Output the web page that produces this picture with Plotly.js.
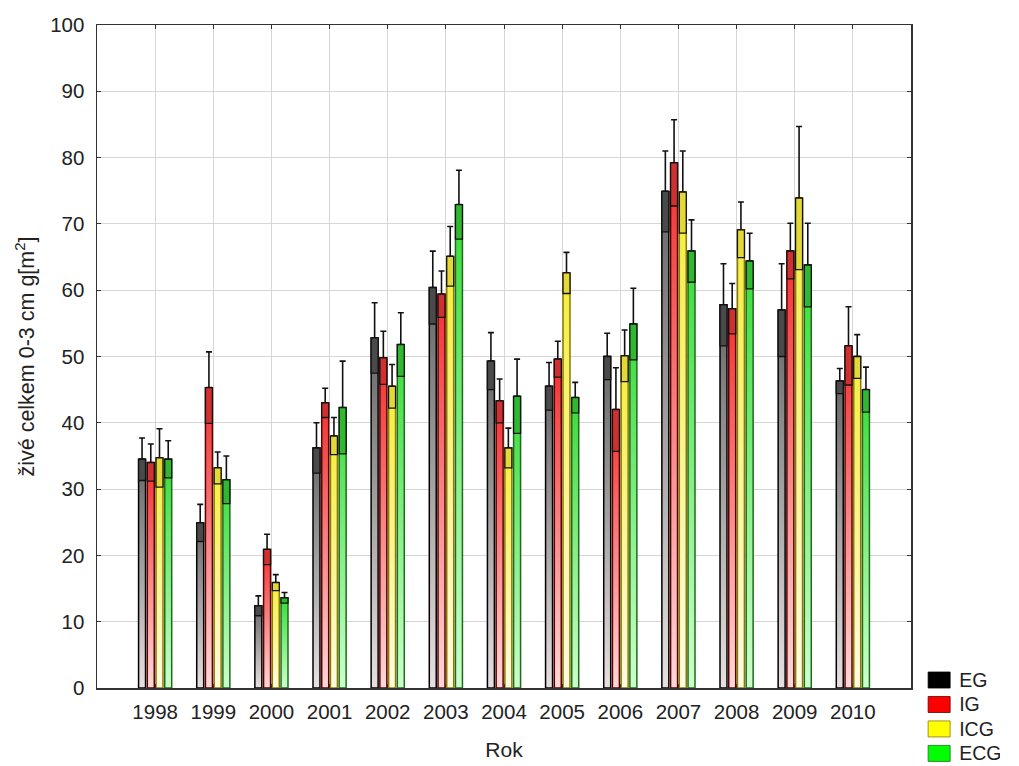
<!DOCTYPE html>
<html>
<head>
<meta charset="utf-8">
<script src="https://cdn.plot.ly/plotly-3.0.1.min.js"></script>
<style>
  html, body { margin: 0; padding: 0; background: #fff; }
  #chart { width: 1019px; height: 766px; }
</style>
</head>
<body>
<div id="chart"></div>
<script>
const years = ['1998','1999','2000','2001','2002','2003','2004','2005','2006','2007','2008','2009','2010'];

const EG      = [34.5, 24.9, 12.4, 36.2, 52.8, 60.4, 49.3, 45.5, 50.0, 74.9, 57.8, 57.0, 46.3];
const EG_err  = [3.2, 2.8, 1.5, 3.8, 5.3, 5.5, 4.3, 3.6, 3.5, 6.1, 6.2, 7.0, 1.9];
const IG      = [34.0, 45.3, 20.9, 43.0, 49.8, 59.4, 43.3, 49.6, 42.0, 79.2, 57.2, 65.9, 51.6];
const IG_err  = [2.8, 5.4, 2.3, 2.2, 4.0, 3.5, 3.3, 2.7, 6.3, 6.5, 3.8, 4.2, 5.9];
const ICG     = [34.7, 33.2, 15.9, 38.0, 45.5, 65.1, 36.2, 62.6, 50.1, 74.8, 69.1, 73.9, 50.0];
const ICG_err = [4.4, 2.4, 1.2, 2.8, 3.3, 4.5, 3.0, 3.1, 3.9, 6.2, 4.2, 10.8, 3.3];
const ECG     = [34.5, 31.4, 13.6, 42.3, 51.8, 72.9, 44.0, 43.8, 54.9, 65.9, 64.4, 63.8, 45.0];
const ECG_err = [2.8, 3.6, 0.8, 7.0, 4.8, 5.2, 5.6, 2.3, 5.4, 4.7, 4.2, 6.3, 3.4];

const seriesNames = ['EG', 'IG', 'ICG', 'ECG'];
const seriesVals  = [EG, IG, ICG, ECG];
const seriesErr   = [EG_err, IG_err, ICG_err, ECG_err];

// styles
const legendColors = ['#000000', '#ff0000', '#ffff00', '#00ff00'];
const lineColors   = ['#000000', '#5a0000', '#8a7a00', '#1f6a1f'];
const boxColors    = ['#4a4a4a', '#d03030', '#e4d838', '#30b830'];
const gradTop      = ['#666666', '#f03030', '#f4ee3c', '#38dc38'];
const gradBottom   = ['#e8e0e0', '#ffd8d8', '#fffbe4', '#ccffcc'];

const traces = [];
seriesNames.forEach((name, i) => {
  traces.push({
    type: 'bar',
    name: name,
    x: years,
    y: seriesVals[i],
    offsetgroup: String(i),
    marker: { color: legendColors[i], line: { color: lineColors[i], width: 1.5 } },
    error_y: {
      type: 'data',
      array: seriesErr[i],
      arrayminus: seriesErr[i].map(() => 0),
      symmetric: false,
      color: '#111111',
      thickness: 1.6,
      width: 3
    },
    hoverinfo: 'skip'
  });
});
// darker boxes (mean - error .. mean) drawn over the bars
seriesNames.forEach((name, i) => {
  traces.push({
    type: 'bar',
    name: name + ' box',
    showlegend: false,
    x: years,
    y: seriesErr[i],
    base: seriesVals[i].map((v, k) => v - seriesErr[i][k]),
    offsetgroup: String(i),
    marker: { color: boxColors[i], line: { color: '#111111', width: 1.3 } },
    hoverinfo: 'skip'
  });
});

const fontFam = '"Liberation Sans", Arial, sans-serif';
const txt = '#222222';

const layout = {
  width: 1019,
  height: 766,
  margin: { l: 97, r: 108, t: 25, b: 78, autoexpand: false },
  paper_bgcolor: '#ffffff',
  plot_bgcolor: '#ffffff',
  barmode: 'group',
  bargap: 0.4,
  bargroupgap: 0.2,
  font: { family: fontFam, color: txt, size: 18 },
  xaxis: {
    type: 'category',
    range: [-1, 13],
    showgrid: true,
    gridcolor: '#d6d6d6',
    gridwidth: 1,
    showline: true,
    linecolor: '#333333',
    linewidth: 1.5,
    mirror: 'ticks',
    ticks: 'inside',
    ticklen: 4,
    tickcolor: '#333333',
    ticklabelstandoff: 5,
    tickfont: { size: 20.5, family: fontFam, color: txt },
    title: { text: 'Rok', font: { size: 21, family: fontFam, color: txt }, standoff: 20 },
    zeroline: false,
    fixedrange: true
  },
  yaxis: {
    range: [0, 100],
    dtick: 10,
    showgrid: true,
    gridcolor: '#d6d6d6',
    gridwidth: 1,
    showline: true,
    linecolor: '#333333',
    linewidth: 1.5,
    mirror: 'ticks',
    ticks: 'inside',
    ticklen: 4,
    tickcolor: '#333333',
    ticklabelstandoff: 7,
    tickfont: { size: 20.5, family: fontFam, color: txt },
    title: { text: 'živé celkem 0-3 cm g[m<sup>2</sup>]', font: { size: 21.5, family: fontFam, color: txt }, standoff: 9 },
    zeroline: false,
    fixedrange: true
  },
  legend: {
    x: 1.01,
    xanchor: 'left',
    y: 0.038,
    yanchor: 'top',
    bgcolor: 'rgba(0,0,0,0)',
    borderwidth: 0,
    font: { size: 16.5, family: fontFam, color: txt },
    tracegroupgap: 0,
    itemsizing: 'constant'
  },
  showlegend: true
};

Plotly.newPlot('chart', traces, layout, { displayModeBar: false, staticPlot: true }).then(gd => {
  try {
    const svg = gd.querySelector('svg.main-svg');
    let defs = svg.querySelector('defs');
    const NS = 'http://www.w3.org/2000/svg';
    if (!defs) { defs = document.createElementNS(NS, 'defs'); svg.insertBefore(defs, svg.firstChild); }
    seriesNames.forEach((n, i) => {
      const lg = document.createElementNS(NS, 'linearGradient');
      lg.setAttribute('id', 'bargrad' + i);
      lg.setAttribute('x1', '0'); lg.setAttribute('y1', '0');
      lg.setAttribute('x2', '0'); lg.setAttribute('y2', '1');
      const s1 = document.createElementNS(NS, 'stop');
      s1.setAttribute('offset', '0'); s1.setAttribute('stop-color', gradTop[i]);
      const s2 = document.createElementNS(NS, 'stop');
      s2.setAttribute('offset', '1'); s2.setAttribute('stop-color', gradBottom[i]);
      lg.appendChild(s1); lg.appendChild(s2);
      defs.appendChild(lg);
    });
    const groups = gd.querySelectorAll('.barlayer .trace');
    groups.forEach((g, ti) => {
      if (ti < 4) {
        g.querySelectorAll('.point path').forEach(p => { p.style.fill = 'url(#bargrad' + ti + ')'; });
      }
    });
    gd.querySelectorAll('.legend .legendpoints path').forEach(p => {
      p.setAttribute('d', 'M11,8H-11V-8H11Z');
      p.style.strokeWidth = '0.8px';
    });
    gd.querySelectorAll('.legend text.legendtext').forEach(t => {
      t.style.fontSize = '19.5px';
      t.setAttribute('y', '7');
    });
  } catch (e) { console.error(e); }
});
</script>
</body>
</html>
